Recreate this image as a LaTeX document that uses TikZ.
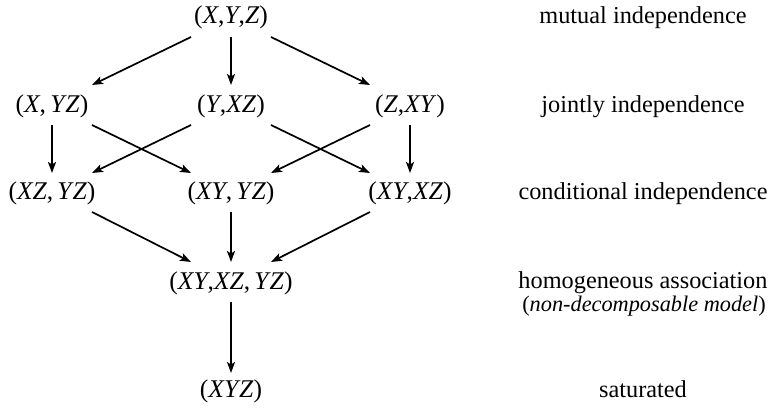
\documentclass[tikz,border=0pt]{standalone}
\usepackage{fontspec}
\setmainfont{Liberation Serif}
\usetikzlibrary{arrows.meta}
\newcommand{\mv}[1]{\textit{#1}}
\begin{document}
\begin{tikzpicture}[x=1pt,y=-1pt,
  mdl/.style={font=\fontsize{25.5}{25.5}\selectfont, inner sep=0pt, anchor=base},
  lab/.style={font=\fontsize{24.3}{23}\selectfont, inner sep=0pt, anchor=base, align=center},
  arr/.style={-{Stealth[length=11pt,width=8pt,inset=2.5pt]}, line width=1.7pt}]
\useasboundingbox (0,0) rectangle (773,408);
% models
\node[mdl] (r1) at (231,23) {(\mv{X},\mv{Y},\mv{Z})};
\node[mdl] (a2) at (52,112) {(\mv{X},\,\mv{Y\kern1pt Z})};
\node[mdl] (b2) at (231,112) {(\mv{Y},\mv{XZ})};
\node[mdl] (c2) at (410,112) {(\mv{Z},\mv{XY})};
\node[mdl] (a3) at (52,199) {(\mv{XZ},\,\mv{Y\kern1pt Z})};
\node[mdl] (b3) at (231,199) {(\mv{XY},\,\mv{Y\kern1pt Z})};
\node[mdl] (c3) at (410,199) {(\mv{XY},\mv{XZ})};
\node[mdl] (r4) at (231,289) {(\mv{XY},\mv{XZ},\,\mv{Y\kern1pt Z})};
\node[mdl] (r5) at (231,397) {(\mv{XY\kern1pt Z})};
% labels
\node[lab] (l1) at (643,23) {mutual independence};
\node[lab] (l2) at (643,112) {jointly independence};
\node[lab] (l3) at (643,199) {conditional independence};
\node[lab] (l4) at (643,288) {homogeneous association};
\node[lab, font=\fontsize{22.3}{23}\selectfont] (l4b) at (644,311) {(\textit{non-decomposable model})};
\node[lab] (l5) at (643,397) {saturated};
% arrows row1 -> row2
\draw[arr] ([shift={(-40,14)}]r1.base) -- ([shift={(40,-27)}]a2.base);
\draw[arr] ([shift={(0,14)}]r1.base) -- ([shift={(0,-27)}]b2.base);
\draw[arr] ([shift={(40,14)}]r1.base) -- ([shift={(-40,-27)}]c2.base);
% row2 -> row3
\draw[arr] ([shift={(0,13)}]a2.base) -- ([shift={(0,-26)}]a3.base);
\draw[arr] ([shift={(40,13)}]a2.base) -- ([shift={(-40,-26)}]b3.base);
\draw[arr] ([shift={(-40,13)}]b2.base) -- ([shift={(40,-26)}]a3.base);
\draw[arr] ([shift={(40,13)}]b2.base) -- ([shift={(-40,-26)}]c3.base);
\draw[arr] ([shift={(-40,13)}]c2.base) -- ([shift={(40,-26)}]b3.base);
\draw[arr] ([shift={(0,13)}]c2.base) -- ([shift={(0,-26)}]c3.base);
% row3 -> row4
\draw[arr] ([shift={(40,13)}]a3.base) -- ([shift={(-40,-27)}]r4.base);
\draw[arr] ([shift={(0,13)}]b3.base) -- ([shift={(0,-27)}]r4.base);
\draw[arr] ([shift={(-40,13)}]c3.base) -- ([shift={(40,-27)}]r4.base);
% row4 -> row5
\draw[arr] ([shift={(0,13)}]r4.base) -- ([shift={(0,-24)}]r5.base);
\end{tikzpicture}
\end{document}
